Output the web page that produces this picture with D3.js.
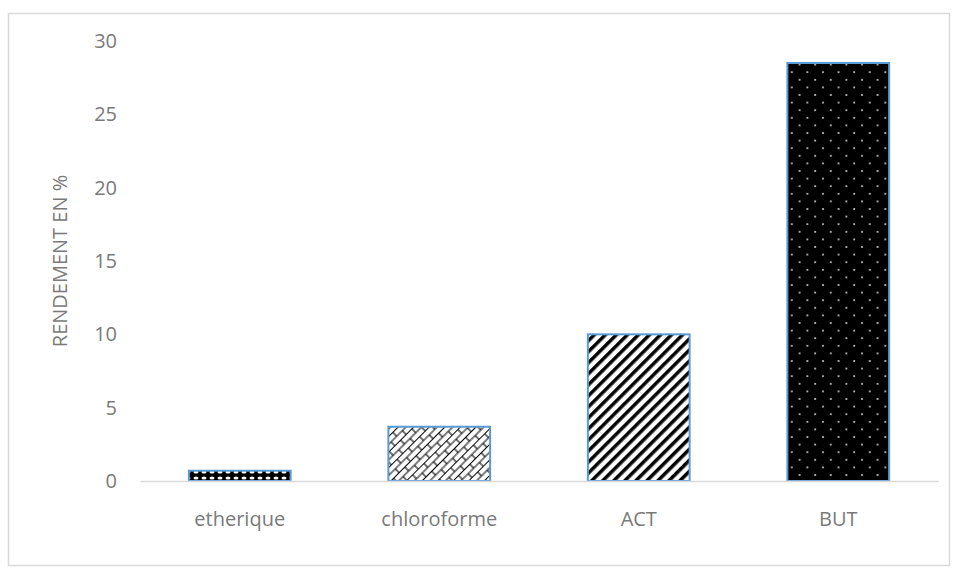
<!DOCTYPE html>
<html><head><meta charset="utf-8">
<script src="https://cdn.jsdelivr.net/npm/d3@7"></script>
<style>
html,body{margin:0;padding:0;background:#fff;}
svg{display:block;}
text{font-family:"Open Sans",sans-serif;fill:#7a7a7a;}
</style></head>
<body>
<svg id="chart" width="955" height="580"></svg>
<script>
const categories = ["etherique", "chloroforme", "ACT", "BUT"];
const values = [0.7, 3.7, 10.0, 28.5];
const patterns = ["pEth", "pChl", "pAct", "pBut"];
const yTicks = [0, 5, 10, 15, 20, 25, 30];
const yTitle = "RENDEMENT EN %";

const svg = d3.select("#chart");
const plot = {left: 140, right: 938, top: 41, bottom: 481};

// outer chart border
svg.append("rect").attr("x", 8.5).attr("y", 13.5).attr("width", 941).attr("height", 552)
  .attr("fill", "#fff").attr("stroke", "#d9d9d9").attr("stroke-width", 1.5);

const defs = svg.append("defs");
// etherique: black with white dots row
let p = defs.append("pattern").attr("id", "pEth").attr("patternUnits", "userSpaceOnUse")
  .attr("width", 8).attr("height", 6).attr("y", 1);
p.append("rect").attr("width", 8).attr("height", 6).attr("fill", "#000");
p.append("ellipse").attr("cx", 4).attr("cy", 3).attr("rx", 2.5).attr("ry", 1.6).attr("fill", "#fff");
// chloroforme: diagonal brick
p = defs.append("pattern").attr("id", "pChl").attr("patternUnits", "userSpaceOnUse")
  .attr("width", 16).attr("height", 11).attr("patternTransform", "rotate(-45)");
p.append("rect").attr("width", 16).attr("height", 11).attr("fill", "#fff");
p.append("path").attr("d", "M0,0.5H16M0,6H16M4,0.5V6M12,6V11.5")
  .attr("stroke", "#000").attr("stroke-width", 1.1).attr("fill", "none");
// ACT: wide downward diagonal stripes
p = defs.append("pattern").attr("id", "pAct").attr("patternUnits", "userSpaceOnUse")
  .attr("width", 7.8).attr("height", 7.8).attr("patternTransform", "rotate(45)");
p.append("rect").attr("width", 7.8).attr("height", 7.8).attr("fill", "#fff");
p.append("rect").attr("width", 3.5).attr("height", 7.8).attr("fill", "#000");
// BUT: black with small white dots
p = defs.append("pattern").attr("id", "pBut").attr("patternUnits", "userSpaceOnUse")
  .attr("width", 15.6).attr("height", 15.2);
p.append("rect").attr("width", 15.6).attr("height", 15.2).attr("fill", "#000");
p.append("circle").attr("cx", 4).attr("cy", 3.8).attr("r", 1.05).attr("fill", "#d0d0d0");
p.append("circle").attr("cx", 11.8).attr("cy", 11.4).attr("r", 1.05).attr("fill", "#d0d0d0");

const x = d3.scaleBand().domain(categories).range([plot.left, plot.right]).paddingInner(0.49).paddingOuter(0.245);
const y = d3.scaleLinear().domain([0, 30]).range([plot.bottom, plot.top]);

// y tick labels
const yAxis = svg.append("g").attr("transform", `translate(${plot.left},0)`)
  .call(d3.axisLeft(y).tickValues(yTicks).tickSize(0).tickPadding(23));
yAxis.select(".domain").remove();
yAxis.selectAll("text").attr("font-size", 20).attr("font-family", "Open Sans").attr("fill", "#7a7a7a");

// bars
svg.append("g").selectAll("rect").data(categories).join("rect")
  .attr("x", d => x(d))
  .attr("y", (d, i) => y(values[i]))
  .attr("width", x.bandwidth())
  .attr("height", (d, i) => y(0) - y(values[i]))
  .attr("fill", (d, i) => `url(#${patterns[i]})`)
  .attr("stroke", "#5b9bd5").attr("stroke-width", 2);

// x axis
const xAxis = svg.append("g").attr("transform", `translate(0,${plot.bottom})`)
  .call(d3.axisBottom(x).tickSize(0).tickPadding(31));
xAxis.select(".domain").attr("stroke", "#d9d9d9").attr("stroke-width", 1.5);
xAxis.selectAll("text").attr("font-size", 20).attr("font-family", "Open Sans").attr("fill", "#7a7a7a");

// y title
svg.append("text").attr("transform", `translate(67,${(plot.top + plot.bottom) / 2}) rotate(-90)`)
  .attr("text-anchor", "middle").attr("font-size", 20).text(yTitle);
</script>
</body></html>
